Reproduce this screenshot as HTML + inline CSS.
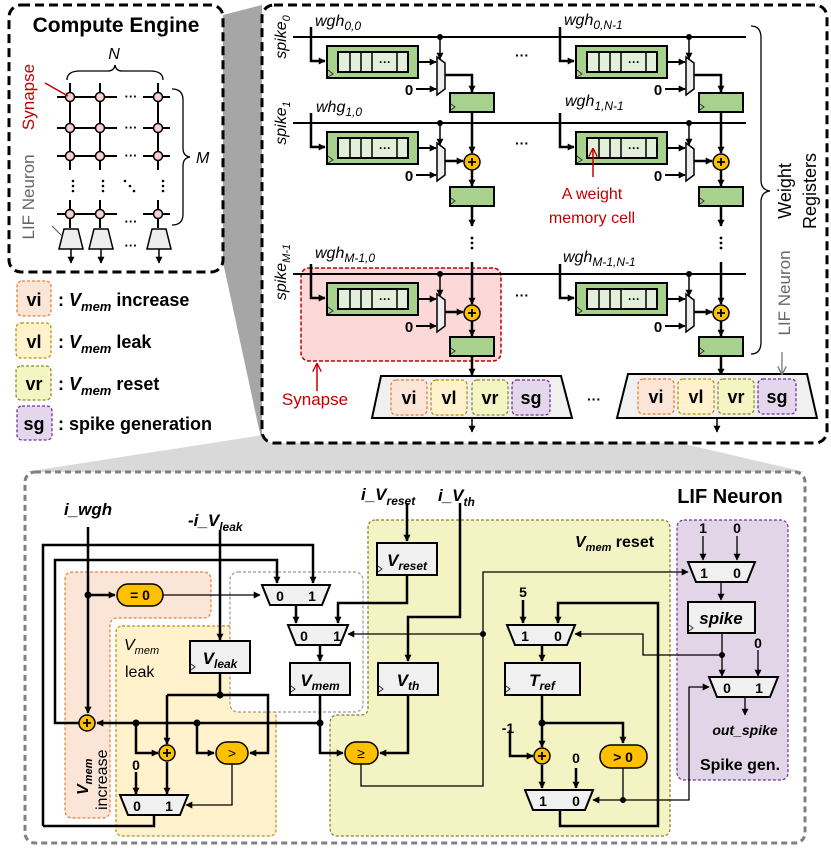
<!DOCTYPE html>
<html><head><meta charset="utf-8"><style>
html,body{margin:0;padding:0;background:#fff}
svg{display:block}
text{font-family:"Liberation Sans",sans-serif}
.b{font-weight:bold}
.i{font-style:italic}
</style></head><body>
<svg width="831" height="848" viewBox="0 0 831 848" xmlns="http://www.w3.org/2000/svg">
<defs>
<marker id="a" viewBox="0 0 10 10" refX="9" refY="5" markerWidth="7" markerHeight="7" markerUnits="userSpaceOnUse" orient="auto"><path d="M0,0L10,5L0,10z" fill="#000"/></marker>
<marker id="ag" viewBox="0 0 10 10" refX="9" refY="5" markerWidth="9" markerHeight="9" markerUnits="userSpaceOnUse" orient="auto"><path d="M0,0L10,5L0,10" fill="none" stroke="#777" stroke-width="1.5"/></marker>
<marker id="ar" viewBox="0 0 10 10" refX="9" refY="5" markerWidth="9" markerHeight="9" markerUnits="userSpaceOnUse" orient="auto"><path d="M0,0L10,5L0,10" fill="none" stroke="#c00000" stroke-width="1.5"/></marker>
</defs>

<!-- wedges -->
<polygon points="223,15 262,5 262,443 223,262" fill="#a6a6a6"/>
<polygon points="372,418 572,418 805,472 25,472" fill="#d9d9d9"/>

<!-- Compute Engine box -->
<rect x="9" y="5" width="214" height="267" rx="12" fill="#fff" stroke="#000" stroke-width="3" stroke-dasharray="9,5"/>
<text x="116" y="32" text-anchor="middle" class="b" font-size="21">Compute Engine</text>
<text x="114" y="59" text-anchor="middle" class="i" font-size="16">N</text>
<path d="M67,80 Q67,71 80,71 L108,71 Q114,71 115,65 Q116,71 122,71 L150,71 Q163,71 163,80" fill="none" stroke="#000" stroke-width="1.3"/>
<path d="M172,89 Q183,89 183,100 L183,148 Q183,156 190,157 Q183,158 183,166 L183,214 Q183,225 172,225" fill="none" stroke="#000" stroke-width="1.3"/>
<text x="196" y="163" class="i" font-size="16">M</text>
<g stroke="#000" stroke-width="2">
<line x1="57" y1="97" x2="117" y2="97"/><line x1="143" y1="97" x2="170" y2="97"/>
<line x1="57" y1="128" x2="117" y2="128"/><line x1="143" y1="128" x2="170" y2="128"/>
<line x1="57" y1="156" x2="117" y2="156"/><line x1="143" y1="156" x2="170" y2="156"/>
<line x1="57" y1="214" x2="117" y2="214"/><line x1="143" y1="214" x2="170" y2="214"/>
<line x1="70" y1="83" x2="70" y2="170"/><line x1="100" y1="83" x2="100" y2="170"/><line x1="158" y1="83" x2="158" y2="170"/>
<line x1="70" y1="200" x2="70" y2="228"/><line x1="100" y1="200" x2="100" y2="228"/><line x1="158" y1="200" x2="158" y2="228"/>
</g>
<g fill="#f8d0d0" stroke="#000" stroke-width="1.5">
<circle cx="70" cy="97" r="4.5"/><circle cx="100" cy="97" r="4.5"/><circle cx="158" cy="97" r="4.5"/>
<circle cx="70" cy="128" r="4.5"/><circle cx="100" cy="128" r="4.5"/><circle cx="158" cy="128" r="4.5"/>
<circle cx="70" cy="156" r="4.5"/><circle cx="100" cy="156" r="4.5"/><circle cx="158" cy="156" r="4.5"/>
<circle cx="70" cy="214" r="4.5"/><circle cx="100" cy="214" r="4.5"/><circle cx="158" cy="214" r="4.5"/>
</g>
<g font-size="13" class="b" text-anchor="middle">
<text x="131" y="101">···</text><text x="131" y="132">···</text><text x="131" y="160">···</text>
<text x="131" y="226">···</text><text x="131" y="250">···</text>
</g>
<g fill="#000"><circle cx="73" cy="181" r="1.3"/><circle cx="73" cy="186" r="1.3"/><circle cx="73" cy="191" r="1.3"/>
<circle cx="103" cy="181" r="1.3"/><circle cx="103" cy="186" r="1.3"/><circle cx="103" cy="191" r="1.3"/>
<circle cx="163" cy="181" r="1.3"/><circle cx="163" cy="186" r="1.3"/><circle cx="163" cy="191" r="1.3"/>
<circle cx="125" cy="181" r="1.3"/><circle cx="130" cy="186" r="1.3"/><circle cx="134" cy="191" r="1.3"/></g>
<g fill="#eee" stroke="#000" stroke-width="1.5">
<polygon points="64,229 78,229 83,249 59,249"/><polygon points="94,229 108,229 113,249 89,249"/><polygon points="152,229 166,229 171,249 147,249"/>
</g>
<g stroke="#000" stroke-width="1.5" marker-end="url(#a)"><line x1="71" y1="249" x2="71" y2="263"/><line x1="101" y1="249" x2="101" y2="263"/><line x1="159" y1="249" x2="159" y2="263"/></g>
<line x1="45" y1="83" x2="68" y2="96" stroke="#c00000" stroke-width="1.5"/>
<line x1="52" y1="226" x2="62" y2="236" stroke="#666" stroke-width="1.2"/>
<text transform="translate(34,97) rotate(-90)" text-anchor="middle" font-size="17" fill="#c00000">Synapse</text>
<text transform="translate(34,197) rotate(-90)" text-anchor="middle" font-size="17" fill="#666">LIF Neuron</text>

<!-- Legend -->
<g stroke-width="1.3" stroke-dasharray="3,2">
<rect x="17" y="281" width="34" height="35" rx="5" fill="#fbe5d6" stroke="#ed7d31"/>
<rect x="16" y="323" width="35" height="35" rx="5" fill="#fff2cc" stroke="#bf9000"/>
<rect x="16" y="366" width="35" height="34" rx="5" fill="#f5f5c4" stroke="#8f8a2a"/>
<rect x="17" y="406" width="35" height="34" rx="5" fill="#e4d7ec" stroke="#7030a0"/>
</g>
<g class="b" font-size="18" text-anchor="middle"><text x="34" y="306">vi</text><text x="34" y="348">vl</text><text x="34" y="390">vr</text><text x="34" y="430">sg</text></g>
<g class="b" font-size="18">
<text x="58" y="306">: <tspan class="i">V</tspan><tspan class="i" font-size="13" dy="5">mem</tspan><tspan dy="-5"> increase</tspan></text>
<text x="58" y="348">: <tspan class="i">V</tspan><tspan class="i" font-size="13" dy="5">mem</tspan><tspan dy="-5"> leak</tspan></text>
<text x="58" y="390">: <tspan class="i">V</tspan><tspan class="i" font-size="13" dy="5">mem</tspan><tspan dy="-5"> reset</tspan></text>
<text x="58" y="430">: spike generation</text>
</g>

<!-- Right box -->
<rect x="262" y="5" width="565" height="438" rx="12" fill="#fff" stroke="#000" stroke-width="3" stroke-dasharray="9,5"/>
<rect x="301" y="268" width="200" height="93" rx="8" fill="#fdd8d8" stroke="#c00000" stroke-width="1.5" stroke-dasharray="4,2"/>
<g class="i" font-size="16">
<text transform="translate(286,37) rotate(-90)" text-anchor="middle">spike<tspan font-size="11" dy="4">0</tspan></text>
<text transform="translate(286,123) rotate(-90)" text-anchor="middle">spike<tspan font-size="11" dy="4">1</tspan></text>
<text transform="translate(286,272) rotate(-90)" text-anchor="middle">spike<tspan font-size="11" dy="4">M-1</tspan></text>
<text x="315" y="26">wgh<tspan font-size="12" dy="4">0,0</tspan></text>
<text x="316" y="112">whg<tspan font-size="12" dy="4">1,0</tspan></text>
<text x="315" y="258">wgh<tspan font-size="12" dy="4">M-1,0</tspan></text>
<text x="564" y="25">wgh<tspan font-size="12" dy="4">0,N-1</tspan></text>
<text x="565" y="106">wgh<tspan font-size="12" dy="4">1,N-1</tspan></text>
<text x="563" y="262">wgh<tspan font-size="12" dy="4">M-1,N-1</tspan></text>
</g>
<g stroke="#000" stroke-width="2"><line x1="293" y1="37" x2="746" y2="37"/><line x1="293" y1="123" x2="746" y2="123"/><line x1="293" y1="274" x2="746" y2="274"/></g>

<!-- cell rows -->
<g id="r0">
 <g id="c0">
  <path d="M311,27 V61 H325" fill="none" stroke="#000" stroke-width="2.5" marker-end="url(#a)"/>
  <rect x="327" y="46" width="91" height="32" fill="#a9d18e" stroke="#000" stroke-width="2"/>
  <rect x="338" y="52" width="70" height="20" fill="#e2efda" stroke="#000" stroke-width="2"/>
  <path d="M350,52V72M361,52V72M372,52V72M397,52V72" stroke="#000" stroke-width="1.5"/>
  <path d="M328,70 L333,74 L328,77" fill="none" stroke="#333" stroke-width="1"/>
  <path d="M418,62 H436" stroke="#000" stroke-width="2" marker-end="url(#a)"/>
  <polygon points="437,57 445,63 445,89 437,95" fill="#eee" stroke="#000" stroke-width="1.5"/>
  <path d="M416,89 H436" stroke="#000" stroke-width="2" marker-end="url(#a)"/>
  <circle cx="440" cy="37" r="3"/>
  <path d="M440,37 V59" stroke="#000" stroke-width="1.5" marker-end="url(#a)"/>
 </g>
</g>
<text x="385" y="66" text-anchor="middle" class="b" font-size="12">···</text>
<text x="409" y="95" text-anchor="middle" class="b" font-size="15">0</text>
<use href="#c0" transform="translate(249,0)"/>
<text x="634" y="66" text-anchor="middle" class="b" font-size="12">···</text>
<text x="658" y="95" text-anchor="middle" class="b" font-size="15">0</text>
<use href="#c0" transform="translate(0,86)"/>
<use href="#c0" transform="translate(249,86)"/>
<use href="#c0" transform="translate(0,237)"/>
<use href="#c0" transform="translate(249,237)"/>
<g text-anchor="middle" class="b">
<text x="385" y="152" font-size="12">···</text><text x="409" y="181" font-size="15">0</text>
<text x="634" y="152" font-size="12">···</text><text x="658" y="181" font-size="15">0</text>
<text x="385" y="303" font-size="12">···</text><text x="409" y="332" font-size="15">0</text>
<text x="634" y="303" font-size="12">···</text><text x="658" y="332" font-size="15">0</text>
<text x="522" y="60" font-size="14">···</text><text x="522" y="148" font-size="14">···</text><text x="522" y="300" font-size="14">···</text>
<text x="594" y="404" font-size="14">···</text>
</g>
<!-- columns -->
<g id="col">
 <path d="M445,75 H472 V92" fill="none" stroke="#000" stroke-width="2.5" marker-end="url(#a)"/>
 <rect x="450" y="93" width="44" height="19" fill="#a9d18e" stroke="#000" stroke-width="2"/>
 <path d="M472,112 V153" stroke="#000" stroke-width="2.5" marker-end="url(#a)"/>
 <path d="M445,161 H463" stroke="#000" stroke-width="2.5" marker-end="url(#a)"/>
 <circle cx="472" cy="162" r="8" fill="#ffc000" stroke="#000" stroke-width="1.5"/>
 <path d="M468,162h8M472,158v8" stroke="#000" stroke-width="1.8"/>
 <path d="M472,170 V186" stroke="#000" stroke-width="2.5" marker-end="url(#a)"/>
 <rect x="450" y="187" width="44" height="19" fill="#a9d18e" stroke="#000" stroke-width="2"/>
 <path d="M472,206 V226" stroke="#000" stroke-width="2.5" marker-end="url(#a)"/>
 <circle cx="472" cy="238" r="1.4"/><circle cx="472" cy="243" r="1.4"/><circle cx="472" cy="248" r="1.4"/>
 <path d="M472,262 V304" stroke="#000" stroke-width="2.5" marker-end="url(#a)"/>
 <path d="M445,312 H463" stroke="#000" stroke-width="2.5" marker-end="url(#a)"/>
 <circle cx="472" cy="313" r="8" fill="#ffc000" stroke="#000" stroke-width="1.5"/>
 <path d="M468,313h8M472,309v8" stroke="#000" stroke-width="1.8"/>
 <path d="M472,321 V336" stroke="#000" stroke-width="2.5" marker-end="url(#a)"/>
 <rect x="450" y="337" width="44" height="19" fill="#a9d18e" stroke="#000" stroke-width="2"/>
 <path d="M472,356 V375" stroke="#000" stroke-width="2.5" marker-end="url(#a)"/>
</g>
<use href="#col" transform="translate(249,0)"/>
<g fill="none" stroke="#333" stroke-width="1"><path d="M451,104l4,3l-4,3M451,198l4,3l-4,3M451,348l4,3l-4,3M700,104l4,3l-4,3M700,198l4,3l-4,3M700,348l4,3l-4,3"/></g>

<!-- neurons -->
<polygon points="381,376 561,376 572,418 372,418" fill="#f0f0f0" stroke="#000" stroke-width="2"/>
<polygon points="628,374 807,374 817,418 617,418" fill="#f0f0f0" stroke="#000" stroke-width="2"/>
<g stroke-width="1.3" stroke-dasharray="3,2">
<rect x="391" y="380" width="36" height="35" rx="5" fill="#fbe5d6" stroke="#ed7d31"/>
<rect x="431" y="380" width="36" height="35" rx="5" fill="#fff2cc" stroke="#bf9000"/>
<rect x="472" y="380" width="36" height="35" rx="5" fill="#f5f5c4" stroke="#8f8a2a"/>
<rect x="512" y="380" width="38" height="35" rx="5" fill="#e4d7ec" stroke="#7030a0"/>
<rect x="638" y="379" width="36" height="35" rx="5" fill="#fbe5d6" stroke="#ed7d31"/>
<rect x="678" y="379" width="36" height="35" rx="5" fill="#fff2cc" stroke="#bf9000"/>
<rect x="718" y="379" width="36" height="35" rx="5" fill="#f5f5c4" stroke="#8f8a2a"/>
<rect x="758" y="379" width="38" height="35" rx="5" fill="#e4d7ec" stroke="#7030a0"/>
</g>
<g class="b" font-size="18" text-anchor="middle">
<text x="409" y="404">vi</text><text x="449" y="404">vl</text><text x="490" y="404">vr</text><text x="531" y="404">sg</text>
<text x="656" y="403">vi</text><text x="696" y="403">vl</text><text x="736" y="403">vr</text><text x="777" y="403">sg</text>
</g>
<path d="M472,418 V432" stroke="#000" stroke-width="1.5" marker-end="url(#a)"/>
<path d="M717,418 V432" stroke="#000" stroke-width="1.5" marker-end="url(#a)"/>
<path d="M751,26 Q761,26 761,38 L761,180 Q761,190 770,191 Q761,192 761,202 L761,342 Q761,354 751,354" fill="none" stroke="#000" stroke-width="1.3"/>
<text transform="translate(791,191) rotate(-90)" text-anchor="middle" font-size="18">Weight</text>
<text transform="translate(816,191) rotate(-90)" text-anchor="middle" font-size="18">Registers</text>
<text transform="translate(790,293) rotate(-90)" text-anchor="middle" font-size="17" fill="#666">LIF Neuron</text>
<path d="M782,352 V374" stroke="#777" stroke-width="1.3" marker-end="url(#ag)"/>
<text x="592" y="199" text-anchor="middle" font-size="16" fill="#c00000">A weight</text>
<text x="592" y="223" text-anchor="middle" font-size="16" fill="#c00000">memory cell</text>
<path d="M593,177 V149" stroke="#c00000" stroke-width="1.5" marker-end="url(#ar)"/>
<text x="315" y="405" text-anchor="middle" font-size="17" fill="#c00000">Synapse</text>
<path d="M317,391 V364" stroke="#c00000" stroke-width="1.5" marker-end="url(#ar)"/>

<!-- LIF box -->
<rect x="25" y="472" width="780" height="371" rx="10" fill="#fff" stroke="#808080" stroke-width="3" stroke-dasharray="6,4"/>
<path d="M65,580 Q65,572 73,572 H203 Q211,572 211,580 V610 Q211,618 203,618 H118 Q110,618 110,626 V810 Q110,818 102,818 H73 Q65,818 65,810 Z" fill="#fbe5d6" stroke="#ed7d31" stroke-width="1.2" stroke-dasharray="3,2"/>
<rect x="116" y="626" width="160" height="210" rx="6" fill="#fff2cc" stroke="#bf9000" stroke-width="1.2" stroke-dasharray="3,2"/>
<rect x="230" y="572" width="133" height="140" rx="8" fill="#fff" stroke="#999" stroke-width="1.2" stroke-dasharray="3,2"/>
<path d="M376,520 H662 Q670,520 670,528 V828 Q670,836 662,836 H338 Q330,836 330,828 V723 Q330,715 338,715 H361 Q368,715 368,708 V528 Q368,520 376,520 Z" fill="#f3f3c3" stroke="#8c7a2c" stroke-width="1.2" stroke-dasharray="3,2"/>
<rect x="677" y="520" width="111" height="260" rx="7" fill="#e1d5e7" stroke="#7030a0" stroke-width="1.2" stroke-dasharray="3,2"/>

<text x="730" y="503" text-anchor="middle" class="b" font-size="20">LIF Neuron</text>
<g class="b i" font-size="17">
<text x="64" y="515">i_wgh</text>
<text x="188" y="526">-i_V<tspan font-size="12" dy="5">leak</tspan></text>
<text x="361" y="500">i_V<tspan font-size="12" dy="5">reset</tspan></text>
<text x="438" y="501">i_V<tspan font-size="12" dy="5">th</tspan></text>
</g>
<text x="575" y="547" class="b" font-size="16"><tspan class="i">V</tspan><tspan class="i" font-size="11" dy="4">mem</tspan><tspan dy="-4"> reset</tspan></text>
<text x="124" y="650" class="i" font-size="16">V<tspan font-size="11" dy="4">mem</tspan></text>
<text x="125" y="677" font-size="16">leak</text>
<text transform="translate(88,795) rotate(-90)" class="b i" font-size="16">V<tspan font-size="11" dy="4">mem</tspan></text>
<text transform="translate(107,810) rotate(-90)" font-size="16">increase</text>

<g fill="none" stroke="#000" stroke-width="2.5">
<path d="M43,826 V545 H313 V583" marker-end="url(#a)"/>
<path d="M79,723 H55 V560 H277 V583" marker-end="url(#a)"/>
<path d="M88,527 V713" marker-end="url(#a)"/>
<path d="M88,595 H115" marker-end="url(#a)"/>
<path d="M220,530 V640" marker-end="url(#a)"/>
<path d="M296,606 V623" marker-end="url(#a)"/>
<path d="M407,503 V541" marker-end="url(#a)"/>
<path d="M460,503 V617 H408 V661" marker-end="url(#a)"/>
<path d="M320,646 V661" marker-end="url(#a)"/>
<path d="M320,695 V753 H343" marker-end="url(#a)"/>
<path d="M320,723 H97" marker-end="url(#a)"/>
<path d="M408,695 V753 H380" marker-end="url(#a)"/>
<path d="M220,673 V695"/>
<path d="M167,695 H268 V753 H250" marker-end="url(#a)"/>
<path d="M167,695 V744" marker-end="url(#a)"/>
<path d="M136,723 V753 H158" marker-end="url(#a)"/>
<path d="M197,723 V753 H214" marker-end="url(#a)"/>
<path d="M167,762 V794" marker-end="url(#a)"/>
<path d="M136,772 V794" marker-end="url(#a)"/>
<path d="M154,815 V826 H43"/>
<path d="M407,575 V603 H338 V623" marker-end="url(#a)"/>
<path d="M523,600 V623" marker-end="url(#a)"/>
<path d="M542,646 V661" marker-end="url(#a)"/>
<path d="M542,695 V747" marker-end="url(#a)"/>
<path d="M542,723 H623 V743" marker-end="url(#a)"/>
<path d="M510,730 V756 H533" marker-end="url(#a)"/>
<path d="M542,765 V788" marker-end="url(#a)"/>
<path d="M576,768 V788" marker-end="url(#a)"/>
<path d="M560,810 V826 H658 V603 H558 V623" marker-end="url(#a)"/>
</g>
<g fill="none" stroke="#000" stroke-width="1.3">
<path d="M163,595 H260" marker-end="url(#a)"/>
<path d="M232,764 V805 H186" marker-end="url(#a)"/>
<path d="M483,634 H348" marker-end="url(#a)"/>
<path d="M361,764 V786 H483 V572 H688" marker-end="url(#a)"/>
<path d="M703,536 V560" marker-end="url(#a)"/>
<path d="M737,536 V560" marker-end="url(#a)"/>
<path d="M721,582 V600" marker-end="url(#a)"/>
<path d="M722,633 V676" marker-end="url(#a)"/>
<path d="M722,655 H643 V634 H575" marker-end="url(#a)"/>
<path d="M758,650 V676" marker-end="url(#a)"/>
<path d="M745,697 V715" marker-end="url(#a)"/>
<path d="M623,768 V800 H593" marker-end="url(#a)"/>
<path d="M623,800 H689 V687 H709" marker-end="url(#a)"/>
</g>
<g fill="#000">
<circle cx="88" cy="595" r="3.5"/><circle cx="220" cy="695" r="3.5"/><circle cx="136" cy="723" r="3.5"/><circle cx="197" cy="723" r="3.5"/><circle cx="320" cy="723" r="3.5"/>
<circle cx="483" cy="634" r="3"/><circle cx="722" cy="655" r="3"/><circle cx="542" cy="723" r="3.5"/><circle cx="623" cy="800" r="3"/>
</g>
<g fill="#f0f0f0" stroke="#000" stroke-width="2">
<rect x="190" y="641" width="60" height="32"/>
<rect x="290" y="663" width="60" height="32"/>
<rect x="377" y="543" width="60" height="32"/>
<rect x="378" y="663" width="60" height="32"/>
<rect x="505" y="663" width="75" height="32"/>
<rect x="688" y="602" width="67" height="31"/>
</g>
<g fill="none" stroke="#333" stroke-width="1"><path d="M191,664l4,3l-4,3M291,686l4,3l-4,3M378,566l4,3l-4,3M379,686l4,3l-4,3M506,686l4,3l-4,3M689,625l4,3l-4,3"/></g>
<g class="b i" font-size="17" text-anchor="middle">
<text x="220" y="664">V<tspan font-size="12" dy="4">leak</tspan></text>
<text x="320" y="686">V<tspan font-size="12" dy="4">mem</tspan></text>
<text x="407" y="566">V<tspan font-size="12" dy="4">reset</tspan></text>
<text x="408" y="686">V<tspan font-size="12" dy="4">th</tspan></text>
<text x="542" y="686">T<tspan font-size="12" dy="4">ref</tspan></text>
<text x="721" y="624">spike</text>
<text x="745" y="735" font-size="14">out_spike</text>
</g>
<text x="740" y="770" text-anchor="middle" class="b" font-size="16">Spike gen.</text>
<g fill="#f0f0f0" stroke="#000" stroke-width="2">
<polygon points="262,585 330,585 322,605 270,605"/>
<polygon points="288,625 348,625 340,645 296,645"/>
<polygon points="120,795 188,795 180,815 128,815"/>
<polygon points="507,625 575,625 567,645 515,645"/>
<polygon points="525,790 593,790 585,810 533,810"/>
<polygon points="688,562 755,562 747,582 696,582"/>
<polygon points="709,677 778,677 770,697 717,697"/>
</g>
<g class="b" font-size="14" text-anchor="middle">
<text x="280" y="601">0</text><text x="312" y="601">1</text>
<text x="304" y="641">0</text><text x="337" y="641">1</text>
<text x="137" y="811">0</text><text x="169" y="811">1</text>
<text x="525" y="641">1</text><text x="558" y="641">0</text>
<text x="543" y="806">1</text><text x="576" y="806">0</text>
<text x="704" y="578">1</text><text x="737" y="578">0</text>
<text x="727" y="693">0</text><text x="759" y="693">1</text>
<text x="703" y="533">1</text><text x="737" y="533">0</text>
<text x="758" y="648">0</text>
<text x="136" y="770">0</text>
<text x="523" y="597">5</text>
<text x="508" y="733">-1</text>
<text x="576" y="763">0</text>
</g>
<g fill="#ffc000" stroke="#000" stroke-width="1.5">
<rect x="117" y="584" width="46" height="22" rx="11"/>
<rect x="216" y="742" width="32" height="22" rx="11"/>
<rect x="345" y="742" width="33" height="22" rx="11"/>
<rect x="600" y="745" width="47" height="23" rx="11"/>
<circle cx="87" cy="723" r="8"/><circle cx="167" cy="753" r="8"/><circle cx="542" cy="756" r="8"/>
</g>
<path d="M83,723h8M87,719v8M163,753h8M167,749v8M538,756h8M542,752v8" stroke="#000" stroke-width="1.8"/>
<g class="b" font-size="14" text-anchor="middle">
<text x="140" y="600">= 0</text><text x="232" y="758" font-weight="normal">&gt;</text><text x="361" y="758" font-weight="normal">≥</text><text x="623" y="762">&gt; 0</text>
</g>
</svg>
</body></html>
